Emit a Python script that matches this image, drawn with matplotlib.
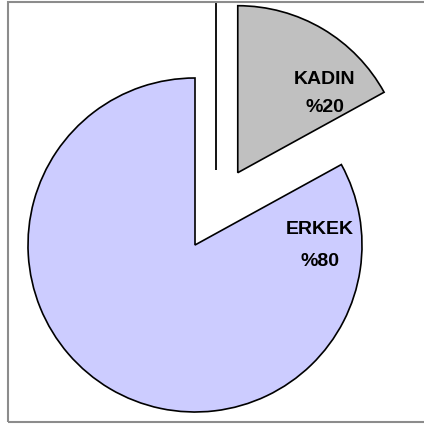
import matplotlib
matplotlib.use('Agg')
import matplotlib.pyplot as plt
from matplotlib.patches import Rectangle

# slice sizes as drawn (angles), printed labels as shown
labels = ['KADIN', 'ERKEK']
sizes = [17, 83]
pct_text = ['%20', '%80']
colors = ['#C0C0C0', '#CCCCFF']

plt.rcParams['font.family'] = ['Liberation Sans', 'DejaVu Sans']

fig = plt.figure(figsize=(4.24, 4.24), dpi=100)
fig.patch.set_facecolor('white')
ax = fig.add_axes([0, 0, 1, 1])

cx, cy, r = 195, 179, 167
# pie explode is an absolute offset in data units here
explode = [0.503 * r, 0]
wedges, _ = ax.pie(sizes, colors=colors, explode=explode, startangle=90,
                   counterclock=False, center=(cx, cy), radius=r,
                   wedgeprops=dict(edgecolor='black', linewidth=1.2),
                   frame=True)
ax.set_xlim(0, 424)
ax.set_ylim(0, 424)
ax.set_aspect('equal')
ax.axis('off')

# stray vertical rule left of the exploded slice
ax.vlines(216, 254, 421, colors='black', linewidth=1.3)

# labels
fs = 14
ax.text(325, 424 - 80, labels[0], ha='center', va='center', fontsize=fs,
        fontweight='bold')
ax.text(325, 424 - 108, pct_text[0], ha='center', va='center', fontsize=fs,
        fontweight='bold')
ax.text(320, 424 - 230, labels[1], ha='center', va='center', fontsize=fs,
        fontweight='bold')
ax.text(320, 424 - 261, pct_text[1], ha='center', va='center', fontsize=fs,
        fontweight='bold')

# outer frame
fig.patches.append(Rectangle((8 / 424, 2 / 424), 430 / 424, 420 / 424,
                             transform=fig.transFigure, fill=False,
                             edgecolor='#8c8c8c', linewidth=1.5))

fig.savefig('out.png', dpi=100)
